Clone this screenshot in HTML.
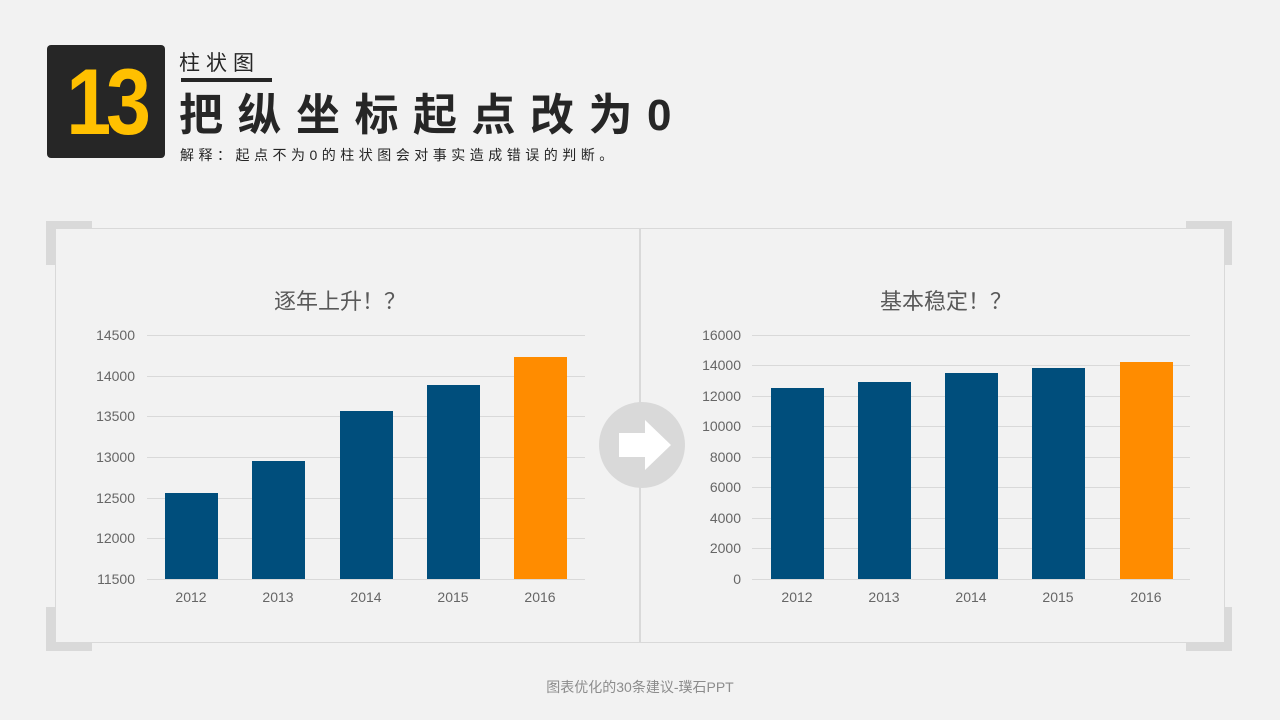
<!DOCTYPE html>
<html><head><meta charset="utf-8"><style>
body{margin:0;width:1280px;height:720px;background:#f2f2f2;position:relative;overflow:hidden;font-family:"Liberation Sans","Noto Sans CJK SC",sans-serif}
.a{position:absolute}
</style></head><body>
<div class="a" style="left:47px;top:45px;width:118px;height:113px;background:#262626;border-radius:4px"></div>
<div class="a" style="left:47px;top:45px;width:118px;height:113px;color:#ffc000;font:bold 94px 'Liberation Sans',sans-serif;line-height:113px;text-align:center;letter-spacing:-6px;transform:scaleX(0.86)">13</div>
<div class="a" style="left:179px;top:47px;font-size:21px;color:#262626;letter-spacing:6px">柱状图</div>
<div class="a" style="left:181px;top:78px;width:91px;height:4px;background:#262626"></div>
<div class="a" style="left:179px;top:88px;font-size:44px;font-weight:bold;color:#262626;letter-spacing:14.5px;line-height:56px">把纵坐标起点改为0</div>
<div class="a" style="left:180px;top:145px;font-size:14px;color:#262626;letter-spacing:4.5px">解释：起点不为0的柱状图会对事实造成错误的判断。</div>
<svg class="a" style="left:0;top:0" width="1280" height="720">
<g fill="#d9d9d9">
<rect x="46" y="221" width="46" height="9"/><rect x="46" y="221" width="9" height="44"/>
<rect x="1186" y="221" width="46" height="9"/><rect x="1223" y="221" width="9" height="44"/>
<rect x="46" y="642" width="46" height="9"/><rect x="46" y="607" width="9" height="44"/>
<rect x="1186" y="642" width="46" height="9"/><rect x="1223" y="607" width="9" height="44"/>
</g>
<rect x="55.5" y="228.5" width="1169" height="414" fill="#f2f2f2" stroke="#d9d9d9"/>
<line x1="640" y1="229" x2="640" y2="642" stroke="#d9d9d9" stroke-width="2"/>
<g stroke="#d9d9d9" stroke-width="1">
<line x1="147" x2="585" y1="335.5" y2="335.5"/><line x1="147" x2="585" y1="376.5" y2="376.5"/><line x1="147" x2="585" y1="416.5" y2="416.5"/><line x1="147" x2="585" y1="457.5" y2="457.5"/><line x1="147" x2="585" y1="498.5" y2="498.5"/><line x1="147" x2="585" y1="538.5" y2="538.5"/><line x1="147" x2="585" y1="579.5" y2="579.5"/>
<line x1="752" x2="1190" y1="335.5" y2="335.5"/><line x1="752" x2="1190" y1="365.5" y2="365.5"/><line x1="752" x2="1190" y1="396.5" y2="396.5"/><line x1="752" x2="1190" y1="426.5" y2="426.5"/><line x1="752" x2="1190" y1="457.5" y2="457.5"/><line x1="752" x2="1190" y1="487.5" y2="487.5"/><line x1="752" x2="1190" y1="518.5" y2="518.5"/><line x1="752" x2="1190" y1="548.5" y2="548.5"/><line x1="752" x2="1190" y1="579.5" y2="579.5"/>
</g>
<g fill="#004e7c">
<rect x="165" y="493" width="53" height="86"/><rect x="252" y="461" width="53" height="118"/><rect x="340" y="411" width="53" height="168"/><rect x="427" y="385" width="53" height="194"/>
<rect x="771" y="388" width="53" height="191"/><rect x="858" y="382" width="53" height="197"/><rect x="945" y="373" width="53" height="206"/><rect x="1032" y="368" width="53" height="211"/>
</g>
<rect x="514" y="357" width="53" height="222" fill="#ff8c00"/>
<rect x="1120" y="362" width="53" height="217" fill="#ff8c00"/>
<g font-family="Liberation Sans,sans-serif" font-size="14" fill="#666" text-anchor="end">
<text x="135" y="340">14500</text><text x="135" y="381">14000</text><text x="135" y="421">13500</text><text x="135" y="462">13000</text><text x="135" y="503">12500</text><text x="135" y="543">12000</text><text x="135" y="584">11500</text>
<text x="741" y="340">16000</text><text x="741" y="370">14000</text><text x="741" y="401">12000</text><text x="741" y="431">10000</text><text x="741" y="462">8000</text><text x="741" y="492">6000</text><text x="741" y="523">4000</text><text x="741" y="553">2000</text><text x="741" y="584">0</text>
</g>
<g font-family="Liberation Sans,sans-serif" font-size="14" fill="#666" text-anchor="middle">
<text x="191" y="602">2012</text><text x="278" y="602">2013</text><text x="366" y="602">2014</text><text x="453" y="602">2015</text><text x="540" y="602">2016</text>
<text x="797" y="602">2012</text><text x="884" y="602">2013</text><text x="971" y="602">2014</text><text x="1058" y="602">2015</text><text x="1146" y="602">2016</text>
</g>
<g font-family="Liberation Sans,Noto Sans CJK SC,sans-serif" font-size="22" fill="#595959" text-anchor="middle">
<text x="340" y="309">逐年上升！？</text><text x="946" y="309">基本稳定！？</text>
</g>
<circle cx="642" cy="445" r="43" fill="#d9d9d9"/>
<polygon points="619,433 645,433 645,420 671,445 645,470 645,457 619,457" fill="#fff"/>
<text x="640" y="692" font-family="Liberation Sans,Noto Sans CJK SC,sans-serif" font-size="14" fill="#8c8c8c" text-anchor="middle">图表优化的30条建议-璞石PPT</text>
</svg>
</body></html>
